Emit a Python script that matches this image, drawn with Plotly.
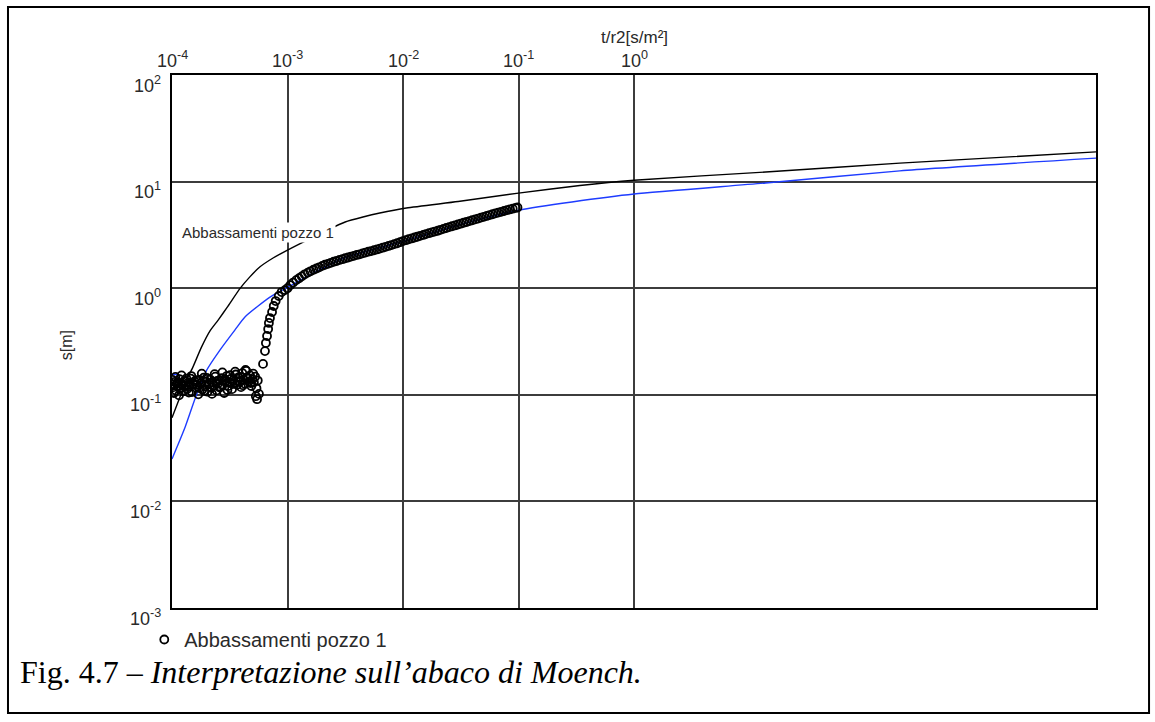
import plotly.graph_objects as go

# Observed drawdowns, pozzo 1 (t/r2 in s/m², s in m)
t_early = [1.00e-4, 1.03e-4, 1.05e-4, 1.08e-4, 1.10e-4, 1.13e-4, 1.16e-4, 1.19e-4, 1.22e-4, 1.25e-4,
           1.28e-4, 1.31e-4, 1.35e-4, 1.38e-4, 1.42e-4, 1.45e-4, 1.49e-4, 1.53e-4, 1.57e-4, 1.61e-4,
           1.65e-4, 1.69e-4, 1.74e-4, 1.78e-4, 1.83e-4, 1.88e-4, 1.93e-4, 1.98e-4, 2.03e-4, 2.08e-4,
           2.14e-4, 2.19e-4, 2.25e-4, 2.31e-4, 2.37e-4, 2.43e-4, 2.49e-4, 2.56e-4, 2.62e-4, 2.69e-4,
           2.76e-4, 2.83e-4, 2.91e-4, 2.98e-4, 3.06e-4, 3.14e-4, 3.22e-4, 3.31e-4, 3.39e-4, 3.48e-4,
           3.57e-4, 3.67e-4, 3.76e-4, 3.86e-4, 3.96e-4, 4.06e-4, 4.17e-4, 4.28e-4, 4.39e-4, 4.50e-4,
           4.62e-4, 4.74e-4, 4.86e-4, 4.99e-4, 5.12e-4, 5.25e-4, 5.39e-4, 5.53e-4]
s_early = [0.125, 0.118, 0.132, 0.110, 0.128, 0.121, 0.140, 0.115, 0.126, 0.108,
           0.135, 0.122, 0.113, 0.130, 0.119, 0.142, 0.106, 0.127, 0.134, 0.117,
           0.124, 0.101, 0.138, 0.129, 0.112, 0.145, 0.120, 0.133, 0.107, 0.126,
           0.139, 0.116, 0.131, 0.123, 0.148, 0.110, 0.127, 0.136, 0.119, 0.143,
           0.125, 0.104, 0.134, 0.150, 0.121, 0.130, 0.141, 0.113, 0.137, 0.128,
           0.155, 0.124, 0.146, 0.132, 0.118, 0.160, 0.139, 0.127, 0.168, 0.144,
           0.133, 0.152, 0.121, 0.140, 0.131, 0.148, 0.115, 0.136]

# second logger channel over the same early interval
t_early2 = [1.01e-4, 1.04e-4, 1.07e-4, 1.12e-4, 1.15e-4, 1.21e-4, 1.27e-4, 1.33e-4, 1.40e-4, 1.47e-4,
            1.55e-4, 1.63e-4, 1.72e-4, 1.81e-4, 1.90e-4, 2.00e-4, 2.11e-4, 2.22e-4, 2.34e-4, 2.46e-4,
            2.59e-4, 2.73e-4, 2.87e-4, 3.02e-4, 3.18e-4, 3.35e-4, 3.52e-4, 3.71e-4, 3.91e-4, 4.11e-4,
            4.33e-4, 4.56e-4, 4.80e-4, 5.05e-4, 5.32e-4]
s_early2 = [0.138, 0.104, 0.147, 0.131, 0.099, 0.152, 0.120, 0.142, 0.105, 0.150,
            0.125, 0.137, 0.116, 0.158, 0.109, 0.144, 0.128, 0.102, 0.156, 0.135,
            0.117, 0.162, 0.140, 0.111, 0.153, 0.126, 0.165, 0.134, 0.147, 0.123,
            0.171, 0.142, 0.129, 0.158, 0.097]

t_rise = [5.45e-4, 5.66e-4, 6.14e-4, 6.38e-4, 6.50e-4, 6.65e-4, 6.80e-4, 6.90e-4, 7.05e-4,
          7.35e-4, 7.60e-4, 7.90e-4, 8.40e-4, 8.90e-4, 9.50e-4]
s_rise = [0.091, 0.102, 0.195, 0.257, 0.306, 0.356, 0.414, 0.472, 0.525,
          0.598, 0.681, 0.758, 0.845, 0.920, 0.960]

t_late = [0.00100, 0.00106, 0.00112, 0.00119, 0.00126, 0.00133, 0.00141, 0.00150, 0.00158, 0.00168,
          0.00178, 0.00188, 0.00200, 0.00211, 0.00224, 0.00237, 0.00251, 0.00266, 0.00282, 0.00299,
          0.00316, 0.00335, 0.00355, 0.00376, 0.00398, 0.00422, 0.00447, 0.00473, 0.00501, 0.00531,
          0.00562, 0.00596, 0.00631, 0.00668, 0.00708, 0.00750, 0.00794, 0.00841, 0.00891, 0.00944,
          0.0100, 0.0106, 0.0112, 0.0119, 0.0126, 0.0133, 0.0141, 0.0150, 0.0158, 0.0168,
          0.0178, 0.0188, 0.0200, 0.0211, 0.0224, 0.0237, 0.0251, 0.0266, 0.0282, 0.0299,
          0.0316, 0.0335, 0.0355, 0.0376, 0.0398, 0.0422, 0.0447, 0.0473, 0.0501, 0.0531,
          0.0562, 0.0596, 0.0631, 0.0668, 0.0708, 0.0750, 0.0794, 0.0841, 0.0891, 0.0944, 0.0980]
s_late = [1.00, 1.07, 1.13, 1.19, 1.24, 1.29, 1.35, 1.40, 1.44, 1.49,
          1.53, 1.57, 1.62, 1.66, 1.69, 1.73, 1.77, 1.80, 1.84, 1.87,
          1.91, 1.94, 1.98, 2.01, 2.05, 2.08, 2.12, 2.16, 2.20, 2.23,
          2.27, 2.31, 2.35, 2.40, 2.44, 2.49, 2.54, 2.59, 2.64, 2.70,
          2.77, 2.82, 2.88, 2.93, 2.99, 3.04, 3.10, 3.16, 3.22, 3.28,
          3.34, 3.40, 3.46, 3.53, 3.60, 3.67, 3.74, 3.81, 3.88, 3.96,
          4.03, 4.11, 4.18, 4.26, 4.34, 4.42, 4.50, 4.59, 4.67, 4.76,
          4.85, 4.94, 5.03, 5.12, 5.21, 5.30, 5.39, 5.48, 5.57, 5.66, 5.72]

# Moench type curves
t_curve_k = [1.00e-4, 1.17e-4, 1.30e-4, 1.51e-4, 1.80e-4, 2.14e-4, 2.50e-4, 3.00e-4, 3.90e-4,
             4.70e-4, 5.75e-4, 7.50e-4, 1.00e-3, 1.48e-3, 2.20e-3, 3.16e-3, 4.50e-3, 6.30e-3,
             1.07e-2, 3.00e-2, 1.00e-1, 3.40e-1, 1.0, 13.8, 200.0, 1.0e4]
s_curve_k = [0.061, 0.095, 0.130, 0.18, 0.28, 0.40, 0.50, 0.66, 1.00,
             1.27, 1.58, 1.92, 2.28, 2.83, 3.50, 4.18, 4.65, 5.07,
             5.65, 6.50, 7.80, 9.20, 10.3, 12.3, 14.9, 19.0]

t_curve_b = [1.00e-4, 1.10e-4, 1.30e-4, 1.60e-4, 2.00e-4, 2.60e-4, 3.50e-4, 4.30e-4, 7.00e-4,
             9.20e-4, 1.00e-3, 3.00e-3, 1.00e-2, 3.00e-2, 6.50e-2, 1.00e-1, 2.90e-1, 1.0, 13.8,
             200.0, 1.0e4]
s_curve_b = [0.025, 0.032, 0.050, 0.095, 0.171, 0.263, 0.405, 0.54, 0.82,
             0.97, 1.02, 1.90, 2.75, 3.90, 4.86, 5.40, 6.44, 7.65, 9.70,
             12.6, 16.6]

t_mark_b = [1.00e-4, 1.12e-4]
s_mark_b = [0.155, 0.155]

x_tick_exp = [-4, -3, -2, -1, 0]
y_tick_exp = [-3, -2, -1, 0, 1, 2]

series_name = "Abbassamenti pozzo 1"
caption_plain = "Fig. 4.7 – "
caption_italic = "Interpretazione sull’abaco di Moench."

SANS = "Arial, Liberation Sans, sans-serif"
SERIF = "Times New Roman, Liberation Serif, serif"
TXT = "#2a2a2a"
BLUE = "rgb(30,60,255)"

fig = go.Figure()
fig.add_trace(go.Scatter(x=t_curve_k, y=s_curve_k, mode="lines", line_shape="spline",
                         line=dict(color="black", width=1.4, smoothing=0.6),
                         showlegend=False, hoverinfo="skip"))
fig.add_trace(go.Scatter(x=t_curve_b, y=s_curve_b, mode="lines", line_shape="spline",
                         line=dict(color=BLUE, width=1.4, smoothing=0.6),
                         showlegend=False, hoverinfo="skip"))
fig.add_trace(go.Scatter(x=t_mark_b, y=s_mark_b, mode="lines",
                         line=dict(color=BLUE, width=1.4), showlegend=False, hoverinfo="skip"))
fig.add_trace(go.Scatter(x=t_early + t_early2 + t_rise + t_late,
                         y=s_early + s_early2 + s_rise + s_late,
                         mode="markers", name=series_name,
                         marker=dict(symbol="circle-open", size=8, color="black",
                                     line=dict(width=1.8, color="black"))))

axis_common = dict(type="log", showgrid=True, gridcolor="#3c3c3c", gridwidth=1.6,
                   showline=True, linecolor="black", linewidth=2, mirror=True,
                   zeroline=False, ticks="", showticklabels=False)

fig.update_layout(
    width=1155, height=722, autosize=False,
    margin=dict(l=172, r=59, t=75, b=114),
    paper_bgcolor="white", plot_bgcolor="white",
    xaxis=dict(range=[-4, 4], side="top", tickvals=[1e-3, 1e-2, 1e-1, 1], **axis_common),
    yaxis=dict(range=[-3, 2], tickvals=[1e-2, 1e-1, 1, 10], **axis_common),
    showlegend=True,
    legend=dict(x=-0.030, y=-0.0225, xanchor="left", yanchor="top",
                bgcolor="rgba(0,0,0,0)", font=dict(family=SANS, size=20, color=TXT),
                itemwidth=30),
)

ann = []
for e in x_tick_exp:
    ann.append(dict(x=e, xref="x", y=1, yref="paper", yanchor="bottom", yshift=2,
                    text=f"10<sup>{e}</sup>", showarrow=False,
                    font=dict(family=SANS, size=18, color=TXT)))
for e in y_tick_exp:
    ann.append(dict(x=0, xref="paper", xanchor="right", xshift=-9, y=e, yref="y",
                    yanchor="middle", yshift=-9, text=f"10<sup>{e}</sup>", showarrow=False,
                    font=dict(family=SANS, size=18, color=TXT)))
ann.append(dict(x=0.501, xref="paper", xanchor="center", y=1, yref="paper", yanchor="middle",
                yshift=38, text="t/r2[s/m²]", showarrow=False,
                font=dict(family=SANS, size=17, color=TXT)))
ann.append(dict(x=-0.1147, xref="paper", xanchor="center", y=0.493, yref="paper",
                yanchor="middle", textangle=-90, text="s[m]", showarrow=False,
                font=dict(family=SANS, size=16, color=TXT)))
ann.append(dict(x=-3.93, xref="x", y=0.527, yref="y", xanchor="left", yanchor="middle",
                text=series_name, showarrow=False, bgcolor="white", borderpad=1,
                font=dict(family=SANS, size=15, color=TXT)))
ann.append(dict(x=-0.1667, xref="paper", xanchor="left", y=-0.12, yref="paper",
                yanchor="middle", text=f"{caption_plain}<i>{caption_italic}</i>",
                showarrow=False, font=dict(family=SERIF, size=32, color="black")))
fig.update_layout(annotations=ann)

fig.add_shape(type="rect", xref="paper", yref="paper",
              x0=-0.1775, x1=1.0574, y0=-0.197, y1=1.1276,
              line=dict(color="black", width=2), layer="below")

fig.write_html("out.html")
